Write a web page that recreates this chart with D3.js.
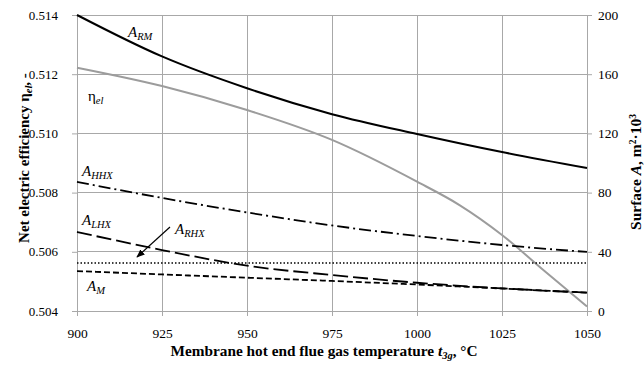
<!DOCTYPE html>
<html><head><meta charset="utf-8">
<script src="https://cdn.jsdelivr.net/npm/d3@7"></script>
<style>
body{margin:0;background:#fff;}
svg{display:block;}
text{font-family:"Liberation Serif","Times New Roman",serif;fill:#000;}
</style></head>
<body>
<svg id="c" width="644" height="365"></svg>
<script>
// ---- data ----
const temps = [900, 925, 950, 975, 1000, 1025, 1050];
const etaTemps = [900, 925, 950, 975, 1000, 1012.5, 1025, 1037.5, 1050];
const etaEl = [0.51222, 0.51160, 0.51079, 0.50978, 0.50837, 0.50758, 0.50657, 0.50535, 0.50415];
const aRM  = [200, 172, 150.5, 133, 119.6, 107.4, 96.6];
const aHHX = [87.2, 76.4, 66.6, 57.8, 50.7, 44.6, 39.9];
const aLHX = [53.4, 41.2, 30.6, 24.3, 19.1, 15.3, 12.4];
const aRHX = [32.4, 32.4, 32.4, 32.4, 32.4, 32.4, 32.4];
const aM   = [27.0, 24.7, 22.5, 20.3, 17.9, 15.2, 12.4];
const xTicks = [900, 925, 950, 975, 1000, 1025, 1050];
const leftTicks = [0.504, 0.506, 0.508, 0.510, 0.512, 0.514];
const rightTicks = [0, 40, 80, 120, 160, 200];

// ---- layout ----
const L = 77, R = 587, T = 15, B = 311;
const svg = d3.select("#c");
const x = d3.scaleLinear().domain([900, 1050]).range([L, R]);
const yL = d3.scaleLinear().domain([0.504, 0.514]).range([B, T]);
const yR = d3.scaleLinear().domain([0, 200]).range([B, T]);
const grid = "#a8a8a8";
const SERIF = '"Liberation Serif","Times New Roman",serif';

// gridlines
svg.append("g").selectAll("line").data(xTicks).join("line")
  .attr("x1", d => x(d)).attr("x2", d => x(d)).attr("y1", T).attr("y2", B)
  .attr("stroke", grid).attr("stroke-width", 1).attr("shape-rendering", "crispEdges");
svg.append("g").selectAll("line").data(leftTicks).join("line")
  .attr("x1", L).attr("x2", R).attr("y1", d => yL(d)).attr("y2", d => yL(d))
  .attr("stroke", grid).attr("stroke-width", 1).attr("shape-rendering", "crispEdges");

// axes
const fmt = d3.format(".3f");
const axL = svg.append("g").attr("transform", `translate(${L},0)`)
  .call(d3.axisLeft(yL).tickValues(leftTicks).tickFormat(fmt).tickSize(5).tickPadding(14));
const axR = svg.append("g").attr("transform", `translate(${R},0)`)
  .call(d3.axisRight(yR).tickValues(rightTicks).tickSize(5).tickPadding(6));
const axB = svg.append("g").attr("transform", `translate(0,${B})`)
  .call(d3.axisBottom(x).tickValues(xTicks).tickFormat(d3.format("d")).tickSize(5).tickPadding(12));
[axL, axR, axB].forEach(g => {
  g.attr("font-family", null);
  g.select(".domain").attr("stroke", grid);
  g.selectAll(".tick line").attr("stroke", grid);
  g.selectAll(".tick text").style("font-family", SERIF).style("font-size", "13.5px").attr("fill", "#000");
});
axL.selectAll(".tick text").style("font-size", "13px");

// lines
const line = (xs, ys, sc) => d3.line().x((d, i) => x(xs[i])).y(d => sc(d)).curve(d3.curveMonotoneX)(ys);
const series = [
  {xs: etaTemps, ys: etaEl, sc: yL, stroke: "#9c9c9c", w: 2, dash: null},
  {xs: temps, ys: aRM, sc: yR, stroke: "#000", w: 2, dash: null},
  {xs: temps, ys: aHHX, sc: yR, stroke: "#000", w: 1.8, dash: "12,4,2,4"},
  {xs: temps, ys: aLHX, sc: yR, stroke: "#000", w: 1.8, dash: "15,5"},
  {xs: temps, ys: aRHX, sc: yR, stroke: "#000", w: 1.5, dash: "1.5,2"},
  {xs: temps, ys: aM, sc: yR, stroke: "#000", w: 1.8, dash: "6,3"}
];
series.forEach(s => {
  svg.append("path").attr("d", line(s.xs, s.ys, s.sc))
    .attr("fill", "none").attr("stroke", s.stroke).attr("stroke-width", s.w)
    .attr("stroke-dasharray", s.dash);
});

// series labels
function lab(px, py, main, sub, mainItalic = true) {
  const t = svg.append("text").attr("x", px).attr("y", py).style("font-family", SERIF).style("font-size", "15px");
  t.append("tspan").text(main).attr("font-style", mainItalic ? "italic" : "normal");
  t.append("tspan").text(sub).attr("font-style", "italic").style("font-size", "10.5px").attr("dy", 3);
  return t;
}
lab(128, 37, "A", "RM");
lab(88, 101, "η", "el", false);
lab(82, 176, "A", "HHX");
lab(82, 225, "A", "LHX");
lab(175, 234, "A", "RHX");
lab(87, 291, "A", "M");

// arrow
svg.append("defs").append("marker").attr("id", "ah").attr("viewBox", "0 0 10 10")
  .attr("refX", 9).attr("refY", 5).attr("markerWidth", 7).attr("markerHeight", 7)
  .attr("orient", "auto").append("path").attr("d", "M0,1 L10,5 L0,9 Z").attr("fill", "#000");
svg.append("line").attr("x1", 170).attr("y1", 227).attr("x2", 137).attr("y2", 257)
  .attr("stroke", "#000").attr("stroke-width", 1.2).attr("marker-end", "url(#ah)");

// axis titles
const bt = svg.append("text").attr("x", 324).attr("y", 356).attr("text-anchor", "middle")
  .attr("font-weight", "bold").style("font-family", SERIF).style("font-size", "15.3px");
bt.append("tspan").text("Membrane hot end flue gas temperature ");
bt.append("tspan").text("t").attr("font-style", "italic");
bt.append("tspan").text("3g").attr("font-style", "italic").style("font-size", "10.5px").attr("dy", 3);
bt.append("tspan").text(", °C").attr("dy", -3);

const lt = svg.append("text").attr("transform", "translate(29,158) rotate(-90)")
  .attr("text-anchor", "middle").attr("font-weight", "bold").style("font-family", SERIF).style("font-size", "15px");
lt.append("tspan").text("Net electric efficiency η");
lt.append("tspan").text("el").attr("font-style", "italic").style("font-size", "10.5px").attr("dy", 3);
lt.append("tspan").text(", -").attr("dy", -3);

const rt = svg.append("text").attr("transform", "translate(641,172) rotate(-90)")
  .attr("text-anchor", "middle").attr("font-weight", "bold").style("font-family", SERIF).style("font-size", "15.5px");
rt.append("tspan").text("Surface ");
rt.append("tspan").text("A").attr("font-style", "italic");
rt.append("tspan").text(", m");
rt.append("tspan").text("2").style("font-size", "9.5px").attr("dy", -5);
rt.append("tspan").text("·10").attr("dy", 5);
rt.append("tspan").text("3").style("font-size", "9.5px").attr("dy", -5);
</script>
</body></html>
